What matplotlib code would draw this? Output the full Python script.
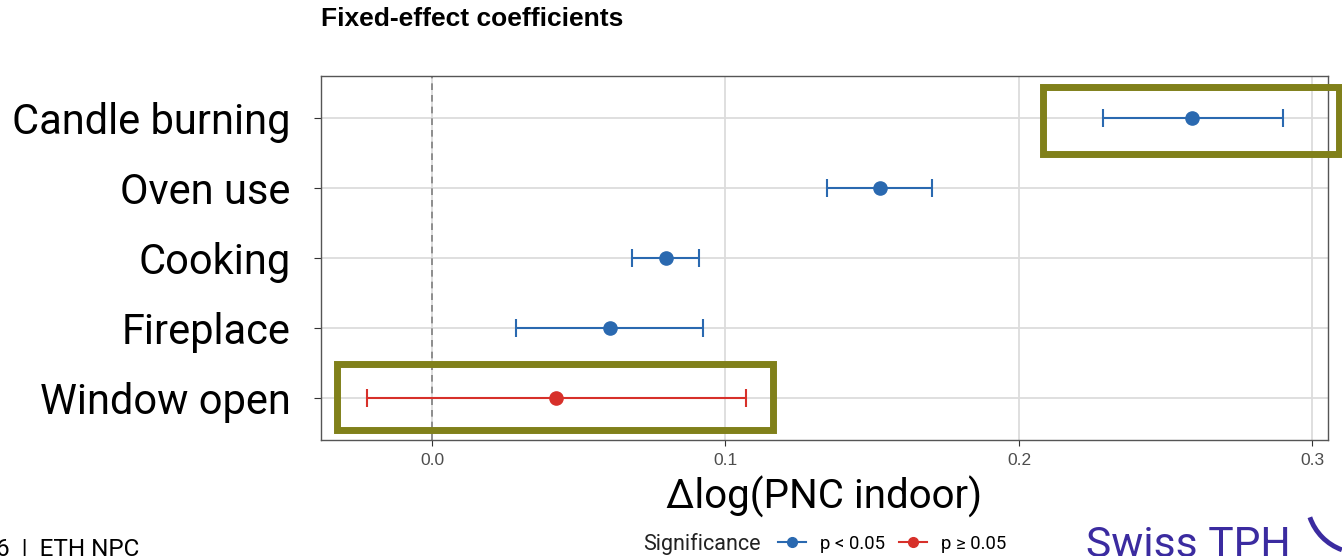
import matplotlib.pyplot as plt
from matplotlib.lines import Line2D
from matplotlib.patches import Rectangle, Arc

# data
labels = ['Candle burning', 'Oven use', 'Cooking', 'Fireplace', 'Window open']
estimate = [0.259, 0.1525, 0.0797, 0.0606, 0.0422]
ci_low = [0.2286, 0.1345, 0.0682, 0.0286, -0.0222]
ci_high = [0.290, 0.1704, 0.0911, 0.0922, 0.107]
significant = [True, True, True, True, False]

blue = '#2A69B0'
red = '#D7302A'
olive = '#80801A'
purple = '#3B2BA0'
label_font = ['Roboto', 'DejaVu Sans']

fig = plt.figure(figsize=(13.42, 5.56), dpi=100)
ax = fig.add_axes([0.2392, 0.2086, 0.7504, 0.6547])

n = len(labels)
ypos = list(range(n, 0, -1))

ax.axvline(0, color='#7F7F7F', ls=(0, (4, 3)), lw=1.2, zorder=1)
for y, est, lo, hi, sig in zip(ypos, estimate, ci_low, ci_high, significant):
    c = blue if sig else red
    ax.errorbar(est, y, xerr=[[est - lo], [hi - est]], fmt='o', color=c,
                ms=9.5, lw=1.5, capsize=6.5, capthick=1.5, zorder=3)

ax.set_xlim(-0.0378, 0.3053)
ax.set_ylim(0.4, 5.6)
ax.set_yticks(ypos)
ax.set_yticklabels(labels, fontsize=30, family=label_font)
ax.set_xticks([0.0, 0.1, 0.2, 0.3])
ax.set_xticklabels(['0.0', '0.1', '0.2', '0.3'], fontsize=12.5,
                   color='#4D4D4D', family='Liberation Sans')
ax.tick_params(axis='y', length=5, color='#333333', pad=17)
ax.tick_params(axis='x', length=4, color='#333333', pad=5)
ax.grid(True, color='#DCDCDC', lw=1.3)
ax.set_axisbelow(True)
for s in ax.spines.values():
    s.set_color('#555555')
    s.set_linewidth(1.0)

ax.set_xlabel('Δlog(PNC indoor)', fontsize=29, family=label_font, labelpad=6)

fig.text(0.2392, 0.965, 'Fixed-effect coefficients', fontsize=19,
         fontweight='bold', family='Liberation Sans', va='center', ha='left')

# highlight boxes
ax.add_patch(Rectangle((-0.0324, 0.544), 0.1486, 0.94, fill=False,
                       ec=olive, lw=5, clip_on=False, zorder=5))
ax.add_patch(Rectangle((0.2082, 4.48), 0.101, 0.968, fill=False,
                       ec=olive, lw=5, clip_on=False, zorder=5))

# legend
fig.text(0.479, 0.022, 'Significance', fontsize=15.5, color='#222222',
         family=label_font, va='center', ha='left')
handles = [Line2D([], [], color=blue, marker='o', ms=7, lw=1.5),
           Line2D([], [], color=red, marker='o', ms=7, lw=1.5)]
fig.legend(handles, ['p < 0.05', 'p ≥ 0.05'], loc='center left',
           bbox_to_anchor=(0.5797, 0.022), ncol=2, frameon=False,
           prop={'family': label_font, 'size': 13.3},
           handlelength=1.5, columnspacing=0.8,
           handletextpad=0.75, borderaxespad=0, borderpad=0)

# slide footer and logo
fig.text(-0.003, 0.012, '6  |  ETH NPC', fontsize=17.5, family=label_font,
         va='center', ha='left')
fig.text(0.809, 0.018, 'Swiss TPH', fontsize=30.7, color=purple,
         family=label_font, va='center', ha='left')
fig.add_artist(Arc((13.60, 0.56), 1.06, 1.06, theta1=199, theta2=250,
                   color=purple, lw=3.5, transform=fig.dpi_scale_trans))

fig.savefig('out.png', dpi=100)
